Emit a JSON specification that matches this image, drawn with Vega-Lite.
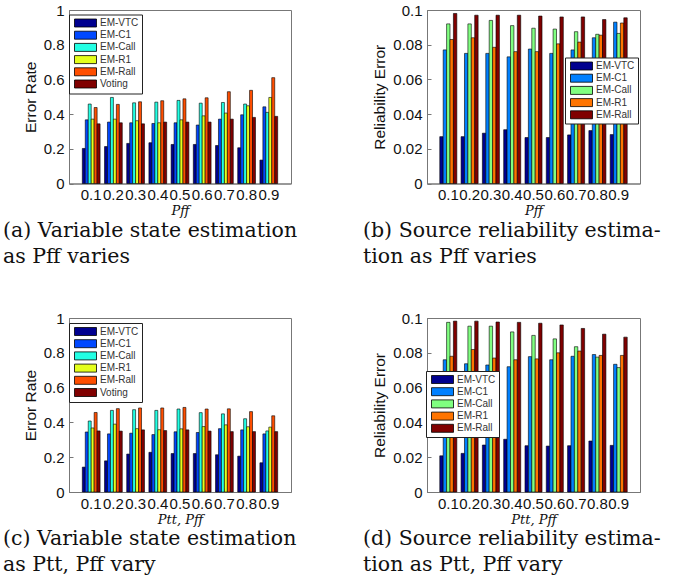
{
  "$schema": "https://vega.github.io/schema/vega-lite/v6.json",
  "background": "white",
  "padding": {"left": 2, "top": 2, "right": 0, "bottom": 0},
  "bounds": "flush",
  "columns": 2,
  "spacing": {"row": 134, "column": 136},
  "resolve": {"scale": {"color": "independent", "y": "independent", "x": "independent", "xOffset": "independent"}, "legend": {"color": "independent"}},
  "config": {
    "font": "Liberation Sans",
    "view": {"stroke": "#777", "strokeWidth": 1},
    "axis": {"labelFont": "Liberation Sans", "labelFontSize": 15, "labelColor": "#111", "titleFont": "Liberation Sans", "titleFontSize": 15.5, "titleFontWeight": "normal", "titleColor": "#111", "domainColor": "#777", "tickColor": "#777", "tickSize": -4, "grid": false},
    "axisX": {"labelAngle": 0, "labelPadding": 8, "titleFont": "DejaVu Serif", "titleFontStyle": "italic", "titleFontSize": 13, "titlePadding": 2},
    "axisY": {"labelPadding": 9, "titlePadding": 5},
    "legend": {"orient": "none", "title": null, "fillColor": "white", "strokeColor": "#222", "padding": 3, "labelFont": "Liberation Sans", "labelFontSize": 10, "labelColor": "#333", "symbolType": "M-2.2,-0.8H2.2V0.8H-2.2Z", "symbolSize": 100, "symbolStrokeColor": "#000", "symbolStrokeWidth": 0.8, "symbolOpacity": 1, "symbolOffset": 8, "labelOffset": 9, "rowPadding": -0.8},
    "title": {"font": "DejaVu Serif", "fontSize": 20.5, "fontWeight": "normal", "color": "#111", "lineHeight": 26, "offset": 3}
  },
  "datasets": {
    "a": [
      {"p": "0.1", "m": "EM-VTC", "v": 0.202}, {"p": "0.1", "m": "EM-C1", "v": 0.367}, {"p": "0.1", "m": "EM-Call", "v": 0.458}, {"p": "0.1", "m": "EM-R1", "v": 0.371}, {"p": "0.1", "m": "EM-Rall", "v": 0.438}, {"p": "0.1", "m": "Voting", "v": 0.344},
      {"p": "0.2", "m": "EM-VTC", "v": 0.213}, {"p": "0.2", "m": "EM-C1", "v": 0.354}, {"p": "0.2", "m": "EM-Call", "v": 0.496}, {"p": "0.2", "m": "EM-R1", "v": 0.371}, {"p": "0.2", "m": "EM-Rall", "v": 0.456}, {"p": "0.2", "m": "Voting", "v": 0.35},
      {"p": "0.3", "m": "EM-VTC", "v": 0.231}, {"p": "0.3", "m": "EM-C1", "v": 0.35}, {"p": "0.3", "m": "EM-Call", "v": 0.465}, {"p": "0.3", "m": "EM-R1", "v": 0.362}, {"p": "0.3", "m": "EM-Rall", "v": 0.471}, {"p": "0.3", "m": "Voting", "v": 0.344},
      {"p": "0.4", "m": "EM-VTC", "v": 0.235}, {"p": "0.4", "m": "EM-C1", "v": 0.346}, {"p": "0.4", "m": "EM-Call", "v": 0.469}, {"p": "0.4", "m": "EM-R1", "v": 0.35}, {"p": "0.4", "m": "EM-Rall", "v": 0.477}, {"p": "0.4", "m": "Voting", "v": 0.354},
      {"p": "0.5", "m": "EM-VTC", "v": 0.225}, {"p": "0.5", "m": "EM-C1", "v": 0.35}, {"p": "0.5", "m": "EM-Call", "v": 0.479}, {"p": "0.5", "m": "EM-R1", "v": 0.367}, {"p": "0.5", "m": "EM-Rall", "v": 0.488}, {"p": "0.5", "m": "Voting", "v": 0.354},
      {"p": "0.6", "m": "EM-VTC", "v": 0.225}, {"p": "0.6", "m": "EM-C1", "v": 0.337}, {"p": "0.6", "m": "EM-Call", "v": 0.463}, {"p": "0.6", "m": "EM-R1", "v": 0.39}, {"p": "0.6", "m": "EM-Rall", "v": 0.494}, {"p": "0.6", "m": "Voting", "v": 0.354},
      {"p": "0.7", "m": "EM-VTC", "v": 0.219}, {"p": "0.7", "m": "EM-C1", "v": 0.371}, {"p": "0.7", "m": "EM-Call", "v": 0.467}, {"p": "0.7", "m": "EM-R1", "v": 0.406}, {"p": "0.7", "m": "EM-Rall", "v": 0.529}, {"p": "0.7", "m": "Voting", "v": 0.371},
      {"p": "0.8", "m": "EM-VTC", "v": 0.206}, {"p": "0.8", "m": "EM-C1", "v": 0.396}, {"p": "0.8", "m": "EM-Call", "v": 0.458}, {"p": "0.8", "m": "EM-R1", "v": 0.448}, {"p": "0.8", "m": "EM-Rall", "v": 0.537}, {"p": "0.8", "m": "Voting", "v": 0.381},
      {"p": "0.9", "m": "EM-VTC", "v": 0.135}, {"p": "0.9", "m": "EM-C1", "v": 0.442}, {"p": "0.9", "m": "EM-Call", "v": 0.41}, {"p": "0.9", "m": "EM-R1", "v": 0.496}, {"p": "0.9", "m": "EM-Rall", "v": 0.61}, {"p": "0.9", "m": "Voting", "v": 0.387}
    ],
    "b": [
      {"p": "0.1", "m": "EM-VTC", "v": 0.027}, {"p": "0.1", "m": "EM-C1", "v": 0.077}, {"p": "0.1", "m": "EM-Call", "v": 0.092}, {"p": "0.1", "m": "EM-R1", "v": 0.083}, {"p": "0.1", "m": "EM-Rall", "v": 0.098},
      {"p": "0.2", "m": "EM-VTC", "v": 0.027}, {"p": "0.2", "m": "EM-C1", "v": 0.075}, {"p": "0.2", "m": "EM-Call", "v": 0.092}, {"p": "0.2", "m": "EM-R1", "v": 0.084}, {"p": "0.2", "m": "EM-Rall", "v": 0.097},
      {"p": "0.3", "m": "EM-VTC", "v": 0.029}, {"p": "0.3", "m": "EM-C1", "v": 0.075}, {"p": "0.3", "m": "EM-Call", "v": 0.094}, {"p": "0.3", "m": "EM-R1", "v": 0.0785}, {"p": "0.3", "m": "EM-Rall", "v": 0.097},
      {"p": "0.4", "m": "EM-VTC", "v": 0.031}, {"p": "0.4", "m": "EM-C1", "v": 0.073}, {"p": "0.4", "m": "EM-Call", "v": 0.091}, {"p": "0.4", "m": "EM-R1", "v": 0.076}, {"p": "0.4", "m": "EM-Rall", "v": 0.097},
      {"p": "0.5", "m": "EM-VTC", "v": 0.0265}, {"p": "0.5", "m": "EM-C1", "v": 0.0775}, {"p": "0.5", "m": "EM-Call", "v": 0.0895}, {"p": "0.5", "m": "EM-R1", "v": 0.076}, {"p": "0.5", "m": "EM-Rall", "v": 0.0965},
      {"p": "0.6", "m": "EM-VTC", "v": 0.0265}, {"p": "0.6", "m": "EM-C1", "v": 0.075}, {"p": "0.6", "m": "EM-Call", "v": 0.089}, {"p": "0.6", "m": "EM-R1", "v": 0.0805}, {"p": "0.6", "m": "EM-Rall", "v": 0.096},
      {"p": "0.7", "m": "EM-VTC", "v": 0.028}, {"p": "0.7", "m": "EM-C1", "v": 0.077}, {"p": "0.7", "m": "EM-Call", "v": 0.0875}, {"p": "0.7", "m": "EM-R1", "v": 0.0815}, {"p": "0.7", "m": "EM-Rall", "v": 0.096},
      {"p": "0.8", "m": "EM-VTC", "v": 0.0305}, {"p": "0.8", "m": "EM-C1", "v": 0.084}, {"p": "0.8", "m": "EM-Call", "v": 0.086}, {"p": "0.8", "m": "EM-R1", "v": 0.0855}, {"p": "0.8", "m": "EM-Rall", "v": 0.0945},
      {"p": "0.9", "m": "EM-VTC", "v": 0.0282}, {"p": "0.9", "m": "EM-C1", "v": 0.093}, {"p": "0.9", "m": "EM-Call", "v": 0.0865}, {"p": "0.9", "m": "EM-R1", "v": 0.0925}, {"p": "0.9", "m": "EM-Rall", "v": 0.0955}
    ],
    "c": [
      {"p": "0.1", "m": "EM-VTC", "v": 0.143}, {"p": "0.1", "m": "EM-C1", "v": 0.345}, {"p": "0.1", "m": "EM-Call", "v": 0.408}, {"p": "0.1", "m": "EM-R1", "v": 0.368}, {"p": "0.1", "m": "EM-Rall", "v": 0.457}, {"p": "0.1", "m": "Voting", "v": 0.351},
      {"p": "0.2", "m": "EM-VTC", "v": 0.179}, {"p": "0.2", "m": "EM-C1", "v": 0.334}, {"p": "0.2", "m": "EM-Call", "v": 0.469}, {"p": "0.2", "m": "EM-R1", "v": 0.39}, {"p": "0.2", "m": "EM-Rall", "v": 0.479}, {"p": "0.2", "m": "Voting", "v": 0.35},
      {"p": "0.3", "m": "EM-VTC", "v": 0.218}, {"p": "0.3", "m": "EM-C1", "v": 0.338}, {"p": "0.3", "m": "EM-Call", "v": 0.473}, {"p": "0.3", "m": "EM-R1", "v": 0.364}, {"p": "0.3", "m": "EM-Rall", "v": 0.483}, {"p": "0.3", "m": "Voting", "v": 0.357},
      {"p": "0.4", "m": "EM-VTC", "v": 0.228}, {"p": "0.4", "m": "EM-C1", "v": 0.33}, {"p": "0.4", "m": "EM-Call", "v": 0.469}, {"p": "0.4", "m": "EM-R1", "v": 0.358}, {"p": "0.4", "m": "EM-Rall", "v": 0.483}, {"p": "0.4", "m": "Voting", "v": 0.353},
      {"p": "0.5", "m": "EM-VTC", "v": 0.221}, {"p": "0.5", "m": "EM-C1", "v": 0.346}, {"p": "0.5", "m": "EM-Call", "v": 0.477}, {"p": "0.5", "m": "EM-R1", "v": 0.363}, {"p": "0.5", "m": "EM-Rall", "v": 0.486}, {"p": "0.5", "m": "Voting", "v": 0.357},
      {"p": "0.6", "m": "EM-VTC", "v": 0.221}, {"p": "0.6", "m": "EM-C1", "v": 0.342}, {"p": "0.6", "m": "EM-Call", "v": 0.456}, {"p": "0.6", "m": "EM-R1", "v": 0.376}, {"p": "0.6", "m": "EM-Rall", "v": 0.477}, {"p": "0.6", "m": "Voting", "v": 0.35},
      {"p": "0.7", "m": "EM-VTC", "v": 0.214}, {"p": "0.7", "m": "EM-C1", "v": 0.364}, {"p": "0.7", "m": "EM-Call", "v": 0.449}, {"p": "0.7", "m": "EM-R1", "v": 0.386}, {"p": "0.7", "m": "EM-Rall", "v": 0.478}, {"p": "0.7", "m": "Voting", "v": 0.347},
      {"p": "0.8", "m": "EM-VTC", "v": 0.206}, {"p": "0.8", "m": "EM-C1", "v": 0.357}, {"p": "0.8", "m": "EM-Call", "v": 0.421}, {"p": "0.8", "m": "EM-R1", "v": 0.375}, {"p": "0.8", "m": "EM-Rall", "v": 0.462}, {"p": "0.8", "m": "Voting", "v": 0.347},
      {"p": "0.9", "m": "EM-VTC", "v": 0.168}, {"p": "0.9", "m": "EM-C1", "v": 0.334}, {"p": "0.9", "m": "EM-Call", "v": 0.351}, {"p": "0.9", "m": "EM-R1", "v": 0.373}, {"p": "0.9", "m": "EM-Rall", "v": 0.438}, {"p": "0.9", "m": "Voting", "v": 0.347}
    ],
    "d": [
      {"p": "0.1", "m": "EM-VTC", "v": 0.0208}, {"p": "0.1", "m": "EM-C1", "v": 0.076}, {"p": "0.1", "m": "EM-Call", "v": 0.0975}, {"p": "0.1", "m": "EM-R1", "v": 0.078}, {"p": "0.1", "m": "EM-Rall", "v": 0.0982},
      {"p": "0.2", "m": "EM-VTC", "v": 0.0222}, {"p": "0.2", "m": "EM-C1", "v": 0.0737}, {"p": "0.2", "m": "EM-Call", "v": 0.0953}, {"p": "0.2", "m": "EM-R1", "v": 0.0819}, {"p": "0.2", "m": "EM-Rall", "v": 0.0982},
      {"p": "0.3", "m": "EM-VTC", "v": 0.027}, {"p": "0.3", "m": "EM-C1", "v": 0.073}, {"p": "0.3", "m": "EM-Call", "v": 0.0953}, {"p": "0.3", "m": "EM-R1", "v": 0.077}, {"p": "0.3", "m": "EM-Rall", "v": 0.0977},
      {"p": "0.4", "m": "EM-VTC", "v": 0.0303}, {"p": "0.4", "m": "EM-C1", "v": 0.072}, {"p": "0.4", "m": "EM-Call", "v": 0.092}, {"p": "0.4", "m": "EM-R1", "v": 0.076}, {"p": "0.4", "m": "EM-Rall", "v": 0.0975},
      {"p": "0.5", "m": "EM-VTC", "v": 0.0266}, {"p": "0.5", "m": "EM-C1", "v": 0.0778}, {"p": "0.5", "m": "EM-Call", "v": 0.09}, {"p": "0.5", "m": "EM-R1", "v": 0.0765}, {"p": "0.5", "m": "EM-Rall", "v": 0.097},
      {"p": "0.6", "m": "EM-VTC", "v": 0.0264}, {"p": "0.6", "m": "EM-C1", "v": 0.076}, {"p": "0.6", "m": "EM-Call", "v": 0.088}, {"p": "0.6", "m": "EM-R1", "v": 0.08}, {"p": "0.6", "m": "EM-Rall", "v": 0.096},
      {"p": "0.7", "m": "EM-VTC", "v": 0.0266}, {"p": "0.7", "m": "EM-C1", "v": 0.078}, {"p": "0.7", "m": "EM-Call", "v": 0.0835}, {"p": "0.7", "m": "EM-R1", "v": 0.081}, {"p": "0.7", "m": "EM-Rall", "v": 0.094},
      {"p": "0.8", "m": "EM-VTC", "v": 0.0293}, {"p": "0.8", "m": "EM-C1", "v": 0.079}, {"p": "0.8", "m": "EM-Call", "v": 0.0775}, {"p": "0.8", "m": "EM-R1", "v": 0.0785}, {"p": "0.8", "m": "EM-Rall", "v": 0.0907},
      {"p": "0.9", "m": "EM-VTC", "v": 0.0268}, {"p": "0.9", "m": "EM-C1", "v": 0.0734}, {"p": "0.9", "m": "EM-Call", "v": 0.0715}, {"p": "0.9", "m": "EM-R1", "v": 0.0785}, {"p": "0.9", "m": "EM-Rall", "v": 0.089}
    ]
  },
  "concat": [
    {
      "width": 222, "height": 173.5,
      "data": {"name": "a"},
      "mark": {"type": "bar", "stroke": "#000", "strokeWidth": 0.6},
      "encoding": {
        "x": {"field": "p", "type": "nominal", "scale": {"paddingInner": 0.2, "paddingOuter": 0.6}, "axis": {"title": "Pff"}},
        "xOffset": {"field": "m", "type": "nominal", "sort": ["EM-VTC", "EM-C1", "EM-Call", "EM-R1", "EM-Rall", "Voting"]},
        "y": {"field": "v", "type": "quantitative", "scale": {"domain": [0, 1], "nice": false}, "axis": {"title": "Error Rate", "values": [0, 0.2, 0.4, 0.6, 0.8, 1], "format": "~g"}},
        "color": {"field": "m", "type": "nominal", "scale": {"domain": ["EM-VTC", "EM-C1", "EM-Call", "EM-R1", "EM-Rall", "Voting"], "range": ["#00008F", "#0048FF", "#22FFE4", "#E4FF1C", "#FF4E00", "#800000"]}, "legend": {"legendX": 0, "legendY": 4.5}}
      },
      "title": {"text": ["(a) Variable state estimation", "as Pff varies"], "orient": "bottom", "anchor": "start", "frame": "group", "dx": -66}
    },
    {
      "width": 213, "height": 173.5,
      "data": {"name": "b"},
      "mark": {"type": "bar", "stroke": "#000", "strokeWidth": 0.6},
      "encoding": {
        "x": {"field": "p", "type": "nominal", "scale": {"paddingInner": 0.2, "paddingOuter": 0.6}, "axis": {"title": "Pff"}},
        "xOffset": {"field": "m", "type": "nominal", "sort": ["EM-VTC", "EM-C1", "EM-Call", "EM-R1", "EM-Rall"]},
        "y": {"field": "v", "type": "quantitative", "scale": {"domain": [0, 0.1], "nice": false}, "axis": {"title": "Reliability Error", "values": [0, 0.02, 0.04, 0.06, 0.08, 0.1], "format": "~g"}},
        "color": {"field": "m", "type": "nominal", "scale": {"domain": ["EM-VTC", "EM-C1", "EM-Call", "EM-R1", "EM-Rall"], "range": ["#00008F", "#0080FF", "#80FF80", "#FF7400", "#800000"]}, "legend": {"legendX": 138, "legendY": 47.5}}
      },
      "title": {"text": ["(b) Source reliability estima-", "tion as Pff varies"], "orient": "bottom", "anchor": "start", "frame": "group", "dx": -64}
    },
    {
      "width": 222, "height": 174,
      "data": {"name": "c"},
      "mark": {"type": "bar", "stroke": "#000", "strokeWidth": 0.6},
      "encoding": {
        "x": {"field": "p", "type": "nominal", "scale": {"paddingInner": 0.2, "paddingOuter": 0.6}, "axis": {"title": "Ptt, Pff"}},
        "xOffset": {"field": "m", "type": "nominal", "sort": ["EM-VTC", "EM-C1", "EM-Call", "EM-R1", "EM-Rall", "Voting"]},
        "y": {"field": "v", "type": "quantitative", "scale": {"domain": [0, 1], "nice": false}, "axis": {"title": "Error Rate", "values": [0, 0.2, 0.4, 0.6, 0.8, 1], "format": "~g"}},
        "color": {"field": "m", "type": "nominal", "scale": {"domain": ["EM-VTC", "EM-C1", "EM-Call", "EM-R1", "EM-Rall", "Voting"], "range": ["#00008F", "#0048FF", "#22FFE4", "#E4FF1C", "#FF4E00", "#800000"]}, "legend": {"legendX": 0, "legendY": 5}}
      },
      "title": {"text": ["(c) Variable state estimation", "as Ptt, Pff vary"], "orient": "bottom", "anchor": "start", "frame": "group", "dx": -66}
    },
    {
      "width": 213, "height": 174,
      "data": {"name": "d"},
      "mark": {"type": "bar", "stroke": "#000", "strokeWidth": 0.6},
      "encoding": {
        "x": {"field": "p", "type": "nominal", "scale": {"paddingInner": 0.2, "paddingOuter": 0.6}, "axis": {"title": "Ptt, Pff"}},
        "xOffset": {"field": "m", "type": "nominal", "sort": ["EM-VTC", "EM-C1", "EM-Call", "EM-R1", "EM-Rall"]},
        "y": {"field": "v", "type": "quantitative", "scale": {"domain": [0, 0.1], "nice": false}, "axis": {"title": "Reliability Error", "values": [0, 0.02, 0.04, 0.06, 0.08, 0.1], "format": "~g"}},
        "color": {"field": "m", "type": "nominal", "scale": {"domain": ["EM-VTC", "EM-C1", "EM-Call", "EM-R1", "EM-Rall"], "range": ["#00008F", "#0080FF", "#80FF80", "#FF7400", "#800000"]}, "legend": {"legendX": -1, "legendY": 53}}
      },
      "title": {"text": ["(d) Source reliability estima-", "tion as Ptt, Pff vary"], "orient": "bottom", "anchor": "start", "frame": "group", "dx": -64}
    }
  ]
}
